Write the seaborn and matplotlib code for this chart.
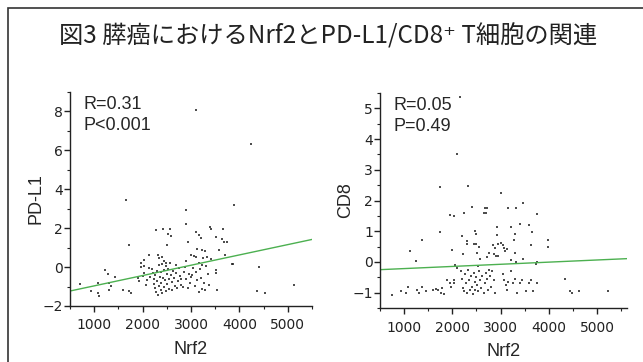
import matplotlib
matplotlib.use("Agg")
import matplotlib.pyplot as plt
import seaborn as sns
import pandas as pd
from matplotlib.patches import Rectangle
from matplotlib.ticker import MultipleLocator

# left panel: Nrf2 vs PD-L1
pdl1_nrf2 = [
    3110, 4230, 1650, 3890, 2890, 2890, 1720, 2270, 2430, 2570, 2530, 2580, 2510, 2940,
    3110, 3170, 3210, 3400, 3410, 3670, 3510, 3650, 3680, 3750, 3580, 3710, 3870, 4400,
    3130, 3230, 3280, 3000, 3060, 3110, 2890, 3160, 3220, 3250, 3330, 3410,
    2130, 2030, 1960, 2310, 2340, 2410, 2450, 2480,
    710, 930, 1070, 1070, 1100, 1220, 1280, 1310, 1340, 1310, 1430, 1590, 1720, 1760,
    1900, 1930, 2030, 2000, 2070, 2100, 2160, 1960, 2030, 2140,
    2200, 2220, 2230, 2240, 2250, 2260, 2270, 2290, 2300, 2310, 2330, 2340, 2350, 2370,
    2380, 2390, 2400, 2410, 2420, 2440, 2450, 2460, 2480, 2490, 2500, 2510, 2530, 2540,
    2550, 2570, 2580, 2600, 2610, 2630, 2640, 2660, 2680, 2700, 2710, 2730, 2750, 2770,
    2790, 2800,
    2830, 2850, 2870, 2900, 2930, 2950, 2980, 3000, 3030, 3050, 3080, 3100, 3130, 3160,
    3180, 3200, 3230, 3260, 3290, 3320, 3350, 3380, 3510, 3510, 3545, 3850, 4370, 4530, 5120,
]
pdl1 = [
    8.05, 6.35, 3.45, 3.2, 2.95, 2.2, 1.13, 1.93, 1.98, 1.98, 1.68, 1.6, 1.13, 1.3,
    1.78, 1.65, 1.47, 2.07, 1.95, 1.98, 1.55, 1.45, 1.27, 1.27, 0.87, 0.62, 0.14, 0.02,
    0.92, 0.88, 0.85, 0.6, 0.55, 0.5, 0.3, 0.2, 0.1, 0.45, 0.5, 0.42,
    0.62, 0.36, 0.22, 0.6, 0.46, 0.5, 0.3, 0.2,
    -0.87, -1.21, -0.84, -1.35, -1.49, -0.15, -0.36, -0.84, -0.97, -1.18, -0.53, -1.18, -1.21, -1.32,
    -0.58, -0.7, -0.32, -0.46, -0.92, -0.67, -0.5, 0.0, 0.05, -0.05,
    -0.1, -0.3, -0.6, -0.85, -1.05, -0.4, -1.3, -0.2, -0.7, -1.45, 0.1, -0.95, -0.5, -1.2,
    -0.25, -0.8, 0.15, -1.35, -0.55, -1.0, -0.15, -0.65, -1.25, 0.05, -0.35, -0.85, -0.1, -0.6,
    -1.15, 0.2, -0.4, -0.75, -1.2, -0.2, -0.55, -0.95, 0.1, -0.3, -1.1, -0.7, -0.05, -0.45,
    -0.9, -0.6,
    -1.0, -0.25, 0.0, -0.6, -1.1, -0.35, -0.8, -0.5, -0.4, -0.05, -0.95, -0.25, -0.65, -1.3,
    -0.1, -0.55, -1.15, -0.8, -1.2, 0.05, -0.35, -0.9, -0.3, -0.15, -1.18, 0.15, -1.21, -1.31, -0.92,
]

# right panel: Nrf2 vs CD8
cd8_nrf2 = [
    2160, 2090, 1740, 2330, 3000, 2400, 2670, 2710, 2650, 2700, 3160, 3310, 3470, 3410,
    3580, 3760, 1960, 2030, 2250, 1740, 1370, 1120, 1250,
    2210, 2310, 2300, 2460, 2490, 2450, 2500, 2550, 2930, 2920, 3220, 3300, 3270, 3650,
    3630, 3980, 3980,
    2950, 3000, 3040, 3080, 3140, 2850, 2880,
    1990, 2230, 2510, 2580, 2720, 2760, 2870, 2910, 2950, 3100, 3220, 3290, 3310, 3470,
    3750, 3730, 2050, 2090, 2530,
    740, 930, 1040, 1070, 1270, 1310, 1380, 1450, 1590, 1660, 1700, 1760, 1790, 1830,
    1880, 1950, 1970, 2040, 2030,
    2180, 2200, 2220, 2240, 2260, 2280, 2300, 2320, 2340, 2360, 2380, 2400, 2420, 2440,
    2460, 2480, 2500, 2520, 2540, 2560, 2580, 2600, 2620, 2650, 2670, 2690, 2710, 2730,
    2760, 2780, 2800, 2830, 2860, 2890,
    3050, 3080, 3120, 3130, 3160, 3220, 3250, 3290, 3340, 3400, 3450, 3520, 3580, 3640,
    3680, 3750,
    4340, 4440, 4490, 4630, 5220,
]
cd8 = [
    5.36, 3.52, 2.43, 2.46, 2.23, 1.79, 1.77, 1.77, 1.6, 1.6, 1.77, 1.77, 1.91, 1.25,
    1.2, 1.55, 1.53, 1.5, 1.6, 0.97, 0.73, 0.37, 0.02,
    0.84, 0.68, 0.57, 1.0, 0.9, 0.58, 0.6, 0.5, 1.15, 0.87, 1.15, 0.9, 0.7, 0.97,
    0.54, 0.7, 0.48,
    0.6, 0.62, 0.55, 0.45, 0.42, 0.55, 0.45,
    0.38, 0.25, 0.3, 0.1, 0.15, 0.3, 0.25, 0.2, 0.18, 0.35, 0.05, 0.3, 0.0, 0.1,
    0.01, -0.08, -0.1, -0.2, -0.13,
    -1.07, -0.94, -1.02, -0.8, -0.9, -1.0, -0.8, -0.95, -0.92, -0.88, -0.92, -1.0, -0.85, -1.05,
    -0.6, -0.7, -0.82, -0.58, -0.7,
    -0.3, -0.55, -0.85, -0.95, -0.4, -0.7, -1.0, -0.25, -0.6, -0.9, -0.45, -0.8, -1.05, -0.35,
    -0.65, -0.9, -0.5, -0.75, -0.95, -0.3, -0.6, -0.85, -0.45, -1.0, -0.7, -0.35, -0.55, -0.9,
    -0.25, -0.45, -0.8, -0.3, -0.6, -1.0,
    -0.4, -0.6, -0.75, -0.9, -0.65, -0.3, -0.7, -0.55, -1.0, -0.7, -0.6, -0.95, -0.7, -0.6,
    -0.95, -0.7,
    -0.55, -0.94, -1.0, -0.94, -0.94,
]

# fitted lines as printed in the figure (intercept, slope)
fit_left = (-1.495, 0.00053)
fit_right = (-0.285, 0.00007)

title = "図3 膵癌におけるNrf2とPD-L1/CD8⁺ T細胞の関連"
stats_left = "R=0.31\nP<0.001"
stats_right = "R=0.05\nP=0.49"

sns.set_theme(style="ticks")
plt.rcParams["font.family"] = ["DejaVu Sans"]

fig = plt.figure(figsize=(6.43, 3.62), dpi=100)
# frame runs off the right and bottom edges of the image
fig.patches.append(Rectangle((8 / 643, -0.05), 1.0, 1.05 - 8 / 362,
                             transform=fig.transFigure, fill=False,
                             edgecolor="#333333", linewidth=1.2))

fig.text(0.51, 0.9, title, ha="center", va="center", fontsize=17.5,
         family=["Noto Sans CJK JP", "DejaVu Sans"], color="#222222")

ax1 = fig.add_axes([0.1089, 0.1547, 0.3763, 0.5913])
ax2 = fig.add_axes([0.591, 0.149, 0.384, 0.594])

df1 = pd.DataFrame({"Nrf2": pdl1_nrf2, "PD-L1": pdl1})
df2 = pd.DataFrame({"Nrf2": cd8_nrf2, "CD8": cd8})

panels = [
    (ax1, df1, "PD-L1", (500, 5500), (-2, 9), 2, 1, stats_left, fit_left),
    (ax2, df2, "CD8", (500, 5620), (-1.5, 5.5), 1, 0.5, stats_right, fit_right),
]
for ax, df, ycol, xlim, ylim, ymaj, ymin, stats, fit in panels:
    sns.regplot(data=df, x="Nrf2", y=ycol, ax=ax, fit_reg=False,
                marker="s", color="#222222",
                scatter_kws={"s": 3, "linewidths": 0})
    ax.axline((0, fit[0]), slope=fit[1], color="#4cb050", linewidth=1.0)
    ax.set_xlim(*xlim)
    ax.set_ylim(*ylim)
    sns.despine(ax=ax)
    ax.xaxis.set_major_locator(MultipleLocator(1000))
    ax.xaxis.set_minor_locator(MultipleLocator(500))
    ax.yaxis.set_major_locator(MultipleLocator(ymaj))
    ax.yaxis.set_minor_locator(MultipleLocator(ymin))
    ax.set_xticks([1000, 2000, 3000, 4000, 5000])
    ax.tick_params(which="major", length=4, width=1, direction="out",
                   labelsize=10, colors="#222222")
    ax.tick_params(axis="x", which="major", pad=5)
    ax.tick_params(axis="y", which="major", pad=1)
    ax.tick_params(which="minor", length=2, width=0.8, direction="out", colors="#222222")
    for sp in ("left", "bottom"):
        ax.spines[sp].set_linewidth(1.0)
        ax.spines[sp].set_color("#222222")
    ax.set_xlabel("Nrf2", fontsize=13, family="Liberation Sans", labelpad=6)
    ax.set_ylabel(ycol, fontsize=13, family="Liberation Sans", labelpad=-1)
    ax.text(0.055, 0.98, stats, transform=ax.transAxes, ha="left", va="top",
            fontsize=13, family="Liberation Sans", linespacing=1.3)

fig.savefig("out.png", dpi=100)
